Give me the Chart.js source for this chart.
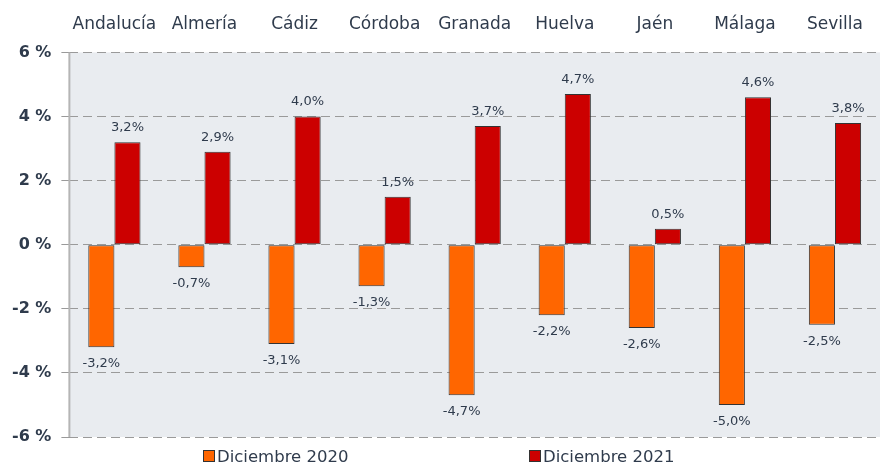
<!DOCTYPE html>
<html>
<head>
<meta charset="utf-8">
<script src="https://cdn.jsdelivr.net/npm/chart.js@4"></script>
<style>
  body { margin: 0; background: #fff; font-family: "DejaVu Sans", sans-serif; }
  #wrap { position: relative; width: 883px; height: 466px; }
  .item { position: absolute; top: 447px; font-size: 16.5px; color: #2f3b4c; }
  .sq { display: inline-block; width: 10px; height: 10px; border: 1px solid #333; margin-right: 2px; vertical-align: 0px; }
</style>
</head>
<body>
<div id="wrap">
  <canvas id="grafico" width="883" height="466"></canvas>
  <span class="item" style="left:203px"><span class="sq" style="background:#ff6600"></span>Diciembre 2020</span>
  <span class="item" style="left:529px"><span class="sq" style="background:#cc0000"></span>Diciembre 2021</span>
</div>
<script>
var provincias = ["Andalucía", "Almería", "Cádiz", "Córdoba", "Granada", "Huelva", "Jaén", "Málaga", "Sevilla"];
var dic2020 = [-3.2, -0.7, -3.1, -1.3, -4.7, -2.2, -2.6, -5.0, -2.5];
var dic2021 = [3.2, 2.9, 4.0, 1.5, 3.7, 4.7, 0.5, 4.6, 3.8];
var ticksY = [-6, -4, -2, 0, 2, 4, 6];

var colorTexto = "#2f3b4c";

// fondo gris del area de trazado y eje vertical continuo
var fondo = {
    id: "fondo",
    beforeDraw: function (chart) {
        var a = chart.chartArea;
        var c = chart.ctx;
        c.save();
        c.fillStyle = "#e9ecf0";
        c.fillRect(a.left, a.top, a.right - a.left, a.bottom - a.top);
        c.restore();
    },
    afterDraw: function (chart) {
        var a = chart.chartArea;
        var c = chart.ctx;
        c.save();
        c.strokeStyle = "#b5b5b5";
        c.lineWidth = 2;
        c.beginPath();
        c.moveTo(a.left, a.top);
        c.lineTo(a.left, a.bottom);
        c.stroke();
        c.restore();
    },
};

// etiquetas de valor encima / debajo de cada barra
var etiquetas = {
    id: "etiquetas",
    afterDatasetsDraw: function (chart) {
        var c = chart.ctx;
        c.save();
        c.font = "13px 'DejaVu Sans'";
        c.fillStyle = colorTexto;
        c.textAlign = "center";
        chart.data.datasets.forEach(function (ds, i) {
            chart.getDatasetMeta(i).data.forEach(function (bar, j) {
                var v = ds.data[j];
                var txt = v.toFixed(1).replace(".", ",") + "%";
                if (v >= 0) {
                    c.textBaseline = "bottom";
                    c.fillText(txt, bar.x, bar.y - 8);
                } else {
                    c.textBaseline = "top";
                    c.fillText(txt, bar.x, bar.y + 10);
                }
            });
        });
        c.restore();
    },
};

var ctx = document.getElementById("grafico");
var grafico = new Chart(ctx, {
    type: "bar",
    data: {
        labels: provincias,
        datasets: [
            {
                label: "Diciembre 2020",
                data: dic2020,
                backgroundColor: "#ff6600",
                borderColor: "#333333",
                borderWidth: 1,
                borderSkipped: false,
            },
            {
                label: "Diciembre 2021",
                data: dic2021,
                backgroundColor: "#cc0000",
                borderColor: "#333333",
                borderWidth: 1,
                borderSkipped: false,
            },
        ],
    },
    options: {
        responsive: false,
        animation: false,
        layout: { padding: { top: 4, right: 3, bottom: 29, left: 2 } },
        plugins: {
            legend: { display: false },
            tooltip: { enabled: false },
        },
        datasets: {
            bar: { categoryPercentage: 0.58, barPercentage: 1 },
        },
        scales: {
            x: {
                position: "top",
                grid: { display: false },
                border: { display: false },
                ticks: {
                    color: colorTexto,
                    font: { family: "DejaVu Sans", size: 17 },
                    padding: 10,
                },
            },
            y: {
                min: -6,
                max: 6,
                afterBuildTicks: function (axis) {
                    axis.ticks = ticksY.map(function (v) { return { value: v }; });
                },
                grid: {
                    color: "#9a9a9a",
                    lineWidth: 1,
                    tickLength: 8,
                    tickColor: "#9a9a9a",
                },
                border: { display: false, dash: [9, 5] },
                ticks: {
                    color: colorTexto,
                    font: { family: "DejaVu Sans", size: 16, weight: "bold" },
                    padding: 10,
                    callback: function (v) { return v + " %"; },
                },
            },
        },
    },
    plugins: [fondo, etiquetas],
});
</script>
</body>
</html>
